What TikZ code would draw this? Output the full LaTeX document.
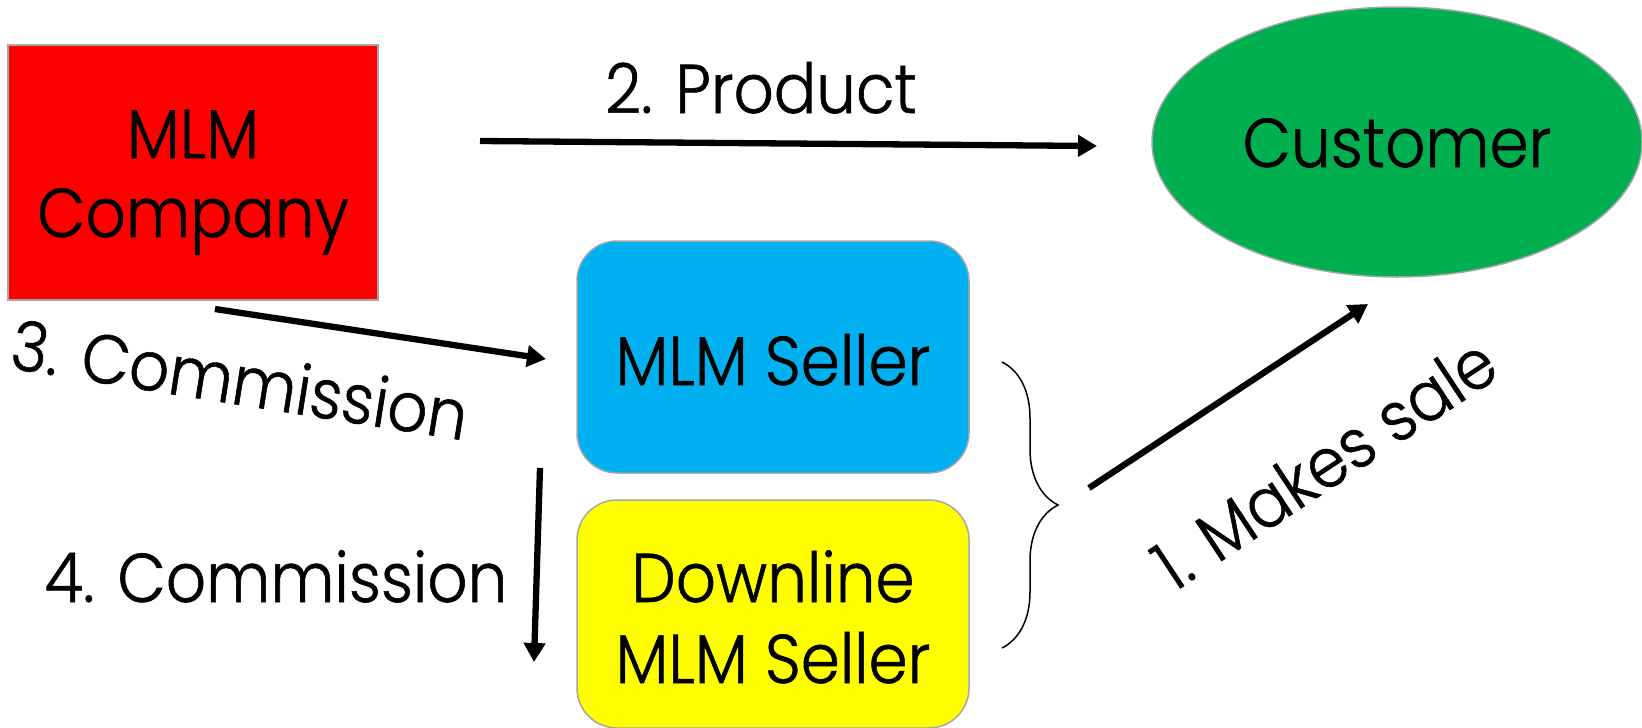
\documentclass[tikz,border=0pt]{standalone}
\usepackage{fontspec}
\setmainfont{Poppins}[UprightFont=* Light,FakeStretch=0.91,FakeBold=0.8]
\usetikzlibrary{arrows.meta,shapes.geometric,decorations.pathreplacing}
\definecolor{mlmred}{HTML}{FF0000}
\definecolor{custgreen}{HTML}{00AF50}
\definecolor{sellerblue}{HTML}{00B0F0}
\definecolor{downyellow}{HTML}{FFFF00}
\definecolor{edgegray}{HTML}{A6A6A6}
\begin{document}
\begin{tikzpicture}[x=1pt,y=-1pt,
  bigtext/.style={font=\fontsize{69}{79}\selectfont},
  shapebox/.style={bigtext,draw=edgegray,line width=1.5pt,inner sep=0pt,align=center,text=black},
  flow/.style={line width=6.3pt,-{Triangle[length=19pt,width=21pt]}},
  label/.style={bigtext,inner sep=0pt}]
\useasboundingbox (0,0) rectangle (1642,728);

% participants
\node[shapebox,fill=mlmred,minimum width=370pt,minimum height=255pt] (company) at (193,172.5) {};
\node[shapebox,ellipse,fill=custgreen,minimum width=490pt,minimum height=270pt] (customer) at (1397,142) {};
\node[shapebox,fill=sellerblue,rounded corners=40pt,minimum width=392pt,minimum height=232pt] (seller) at (773,357) {};
\node[shapebox,fill=downyellow,rounded corners=40pt,minimum width=392pt,minimum height=228pt] (downline) at (773,614) {};

% texts inside the shapes, placed on their baselines
\node[label,anchor=base] (tcompany1) at (company.center |- 0,158) {MLM};
\node[label,anchor=base] (tcompany2) at (company.center |- 0,237) {Company};
\node[label,anchor=base] (tcustomer) at (customer.center |- 0,167) {Customer};
\node[label,anchor=base] (tseller) at (seller.center |- 0,385) {MLM Seller};
\node[label,anchor=base] (tdown1) at (downline.center |- 0,602) {Downline};
\node[label,anchor=base] (tdown2) at (downline.center |- 0,683) {MLM Seller};

% arrow end points
\coordinate (p2s) at (480,141);
\coordinate (p2e) at (1097,146);
\coordinate (c3s) at (215,309);
\coordinate (c3e) at (546,359);
\coordinate (c4s) at (540,468);
\coordinate (c4e) at (534,662);
\coordinate (s1s) at (1089,488);
\coordinate (s1e) at (1368,304);
\coordinate (btop) at (1002,362);
\coordinate (bbot) at (1002,648);

\draw[flow] (p2s) -- (p2e);
\draw[flow] (c3s) -- (c3e);
\draw[flow] (c4s) -- (c4e);
\draw[flow] (s1s) -- (s1e);

% brace grouping both sellers
\draw[line width=1.5pt,decorate,decoration={brace,amplitude=56pt}] (btop) -- (bbot);

% labels
\node[label,anchor=base] (lproduct) at (761,113) {2. Product};
\node[label,rotate=-9] (lcomm3) at (240,379) {3. Commission};
\node[label,anchor=base] (lcomm4) at (276,602) {4. Commission};
\node[label,rotate=33.5] (lsale) at (1324,463) {1. Makes sale};
\end{tikzpicture}
\end{document}
